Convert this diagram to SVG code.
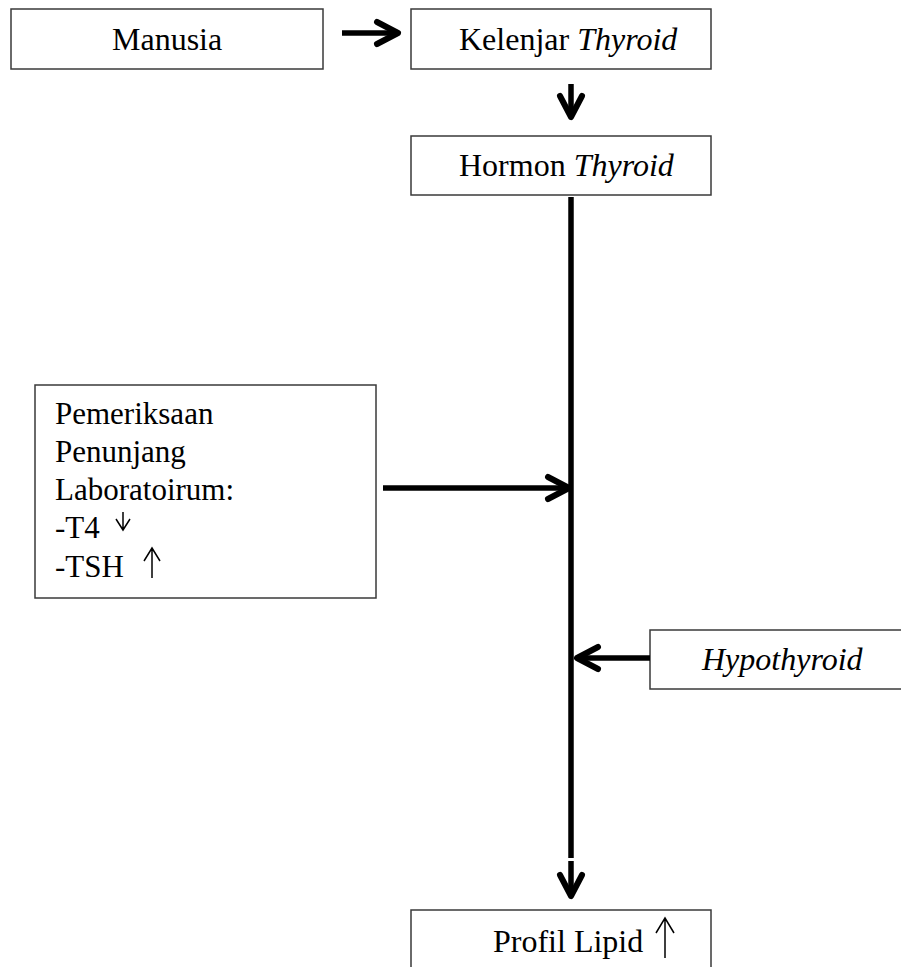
<svg xmlns="http://www.w3.org/2000/svg" width="901" height="967" viewBox="0 0 901 967">
<style>
.box{fill:#fff;stroke:#3a3a3a;stroke-width:1.5}
.t{font-family:"Liberation Serif","Times New Roman",serif;font-size:32px;fill:#000}
.l{font-size:31px}
.i{font-style:italic}
.c{fill:none;stroke:#000;stroke-width:5.5;stroke-linejoin:round}
.ah{fill:none;stroke:#000;stroke-width:6;stroke-linecap:round;stroke-linejoin:round}
.thin{fill:none;stroke:#000;stroke-width:1.5}
</style>
<defs>
<marker id="arr" markerUnits="userSpaceOnUse" markerWidth="40" markerHeight="40" viewBox="-30 -20 40 40" refX="0" refY="0" orient="auto" overflow="visible">
<path class="ah" d="M -21 -11 L 0 0 L -21 11"/>
</marker>
</defs>
<rect width="901" height="967" fill="#fff"/>
<g id="manusia">
<rect class="box" x="11" y="9" width="312" height="60"/>
<text class="t" x="112" y="50">Manusia</text>
</g>
<g id="kelenjar">
<rect class="box" x="411" y="9" width="300" height="60"/>
<text class="t" x="459" y="50">Kelenjar <tspan class="i">Thyroid</tspan></text>
</g>
<g id="hormon">
<rect class="box" x="411" y="136" width="300" height="59"/>
<text class="t" x="459" y="176">Hormon <tspan class="i">Thyroid</tspan></text>
</g>
<g id="lab">
<rect class="box" x="35" y="385" width="341" height="213"/>
<text class="t l" x="55" y="424">Pemeriksaan</text>
<text class="t l" x="55" y="462">Penunjang</text>
<text class="t l" x="55" y="500">Laboratoirum:</text>
<text class="t l" x="55" y="538">-T4</text>
<text class="t l" x="55" y="577">-TSH</text>
<path class="thin" d="M123 512 V530 M116 519 L123 530 L130 519"/>
<path class="thin" d="M152 578 V548 M144 561 L152 548 L160 561"/>
</g>
<g id="hypothyroid">
<rect class="box" x="650" y="630" width="260" height="59"/>
<text class="t i" x="702" y="670">Hypothyroid</text>
</g>
<g id="profil">
<rect class="box" x="411" y="910" width="300" height="70"/>
<text class="t" x="493" y="952">Profil Lipid</text>
<path class="thin" d="M665 958 V918 M656 933 L665 918 L674 933"/>
</g>
<g id="connectors">
<line class="c" x1="342" y1="33" x2="398" y2="33" marker-end="url(#arr)"/>
<line class="c" x1="571" y1="84" x2="571" y2="117" marker-end="url(#arr)"/>
<line class="c" x1="571" y1="197" x2="571" y2="858"/>
<line class="c" x1="571" y1="861" x2="571" y2="896" marker-end="url(#arr)"/>
<line class="c" x1="383" y1="488" x2="569" y2="488" marker-end="url(#arr)"/>
<line class="c" x1="650" y1="658" x2="577" y2="658" marker-end="url(#arr)"/>
</g>
</svg>
